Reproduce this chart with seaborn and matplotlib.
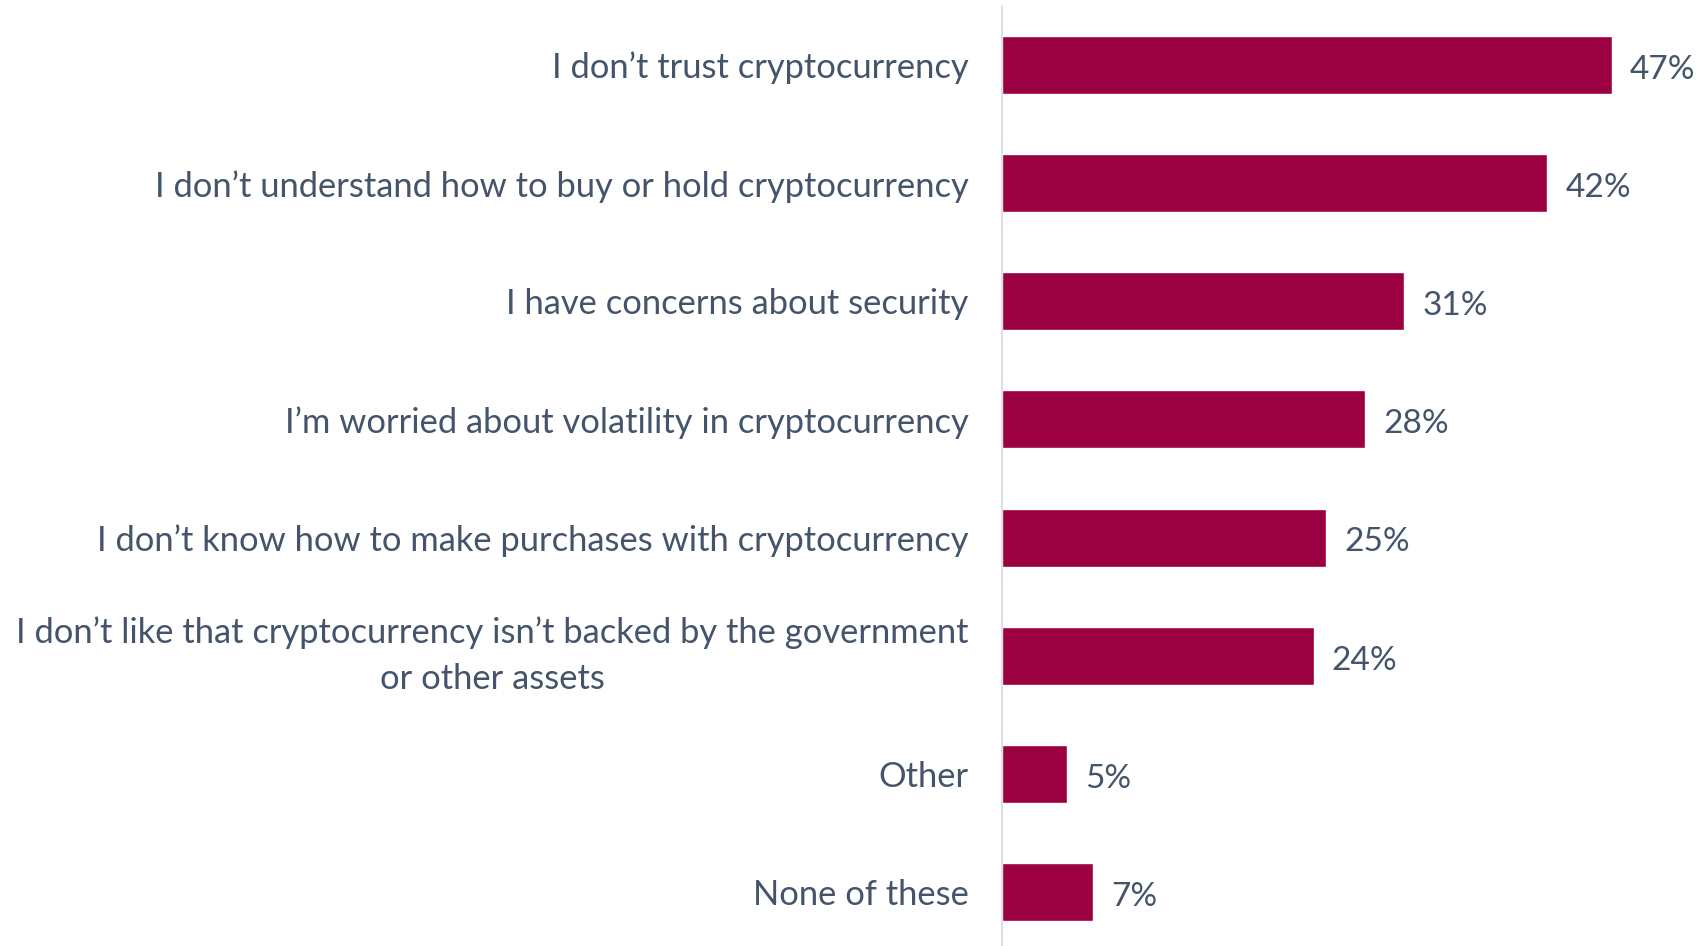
import matplotlib
matplotlib.use("Agg")
import matplotlib.pyplot as plt
import seaborn as sns
import pandas as pd

categories = [
    "I don\u2019t trust cryptocurrency",
    "I don\u2019t understand how to buy or hold cryptocurrency",
    "I have concerns about security",
    "I\u2019m worried about volatility in cryptocurrency",
    "I don\u2019t know how to make purchases with cryptocurrency",
    "I don\u2019t like that cryptocurrency isn\u2019t backed by the government\nor other assets",
    "Other",
    "None of these",
]
values = [47, 42, 31, 28, 25, 24, 5, 7]

BAR_COLOR = "#9B0041"
TEXT_COLOR = "#44546A"

sns.set_theme(style="white")
plt.rcParams["font.family"] = ["Lato", "DejaVu Sans"]

df = pd.DataFrame({"reason": categories, "share": values})

fig = plt.figure(figsize=(16.99, 9.46), dpi=100)
ax = fig.add_axes([1002 / 1699, -5 / 946, 1 - 1002 / 1699, 945 / 946])

sns.barplot(data=df, x="share", y="reason", orient="h", color=BAR_COLOR,
            width=0.49, saturation=1, ax=ax)

ax.set_xlim(0, 53.7)
ax.set_ylim(len(categories) - 0.5, -0.5)
ax.set_xlabel("")
ax.set_ylabel("")
ax.set_xticks([])

for side in ["top", "right", "bottom"]:
    ax.spines[side].set_visible(False)
ax.spines["left"].set_color("#D9D9D9")
ax.spines["left"].set_linewidth(1.2)

ax.tick_params(axis="y", length=0, pad=24, labelsize=24.8, labelcolor=TEXT_COLOR)
for lbl in ax.get_yticklabels():
    lbl.set_multialignment("center")
    if "\n" in lbl.get_text():
        lbl.set_linespacing(1.57)
        lbl.set_verticalalignment("center")

value_labels = ax.bar_label(ax.containers[0], labels=[f"{v}%" for v in values],
                            padding=13, fontsize=24, color=TEXT_COLOR)
# nudge the value labels slightly downward (offset in points)
for t in value_labels:
    dx, dy = t.xyann
    t.xyann = (dx, dy - 3.5)

fig.savefig("out.png", dpi=100)
